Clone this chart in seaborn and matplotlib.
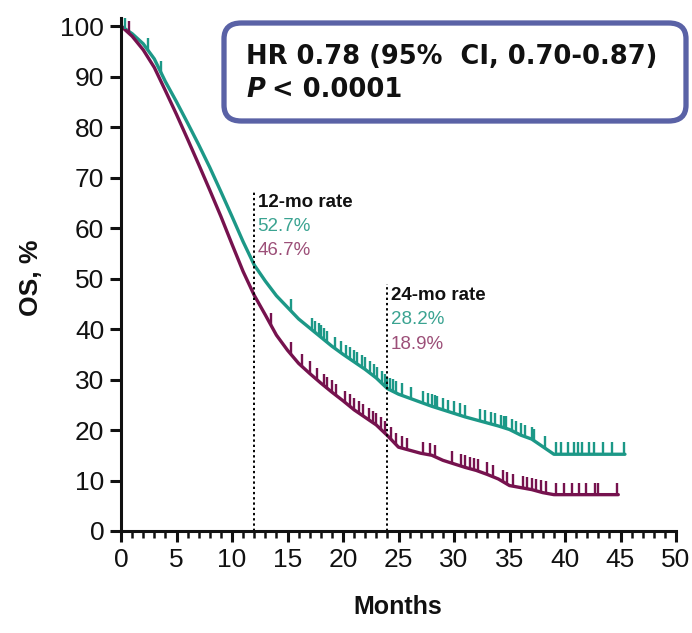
import numpy as np
import pandas as pd
import matplotlib
matplotlib.use("Agg")
import matplotlib.pyplot as plt
from matplotlib.path import Path
from matplotlib.patches import FancyBboxPatch
import seaborn as sns

# Overall survival (%) by month for the two arms
months = list(range(0, 46))
os_arm_a = [100, 98.5, 96.5, 93.5, 89.0, 85.0, 80.8, 76.5, 72.0, 67.2,
            62.3, 57.3, 52.7, 49.5, 46.6, 44.3, 42.0, 40.2, 38.4, 36.6,
            35.0, 33.5, 32.0, 30.3, 28.2, 27.1, 26.3, 25.5, 24.7, 24.0,
            23.3, 22.6, 22.0, 21.4, 20.8, 20.1, 19.0, 18.2, 16.7, 15.2,
            15.2, 15.2, 15.2, 15.2, 15.2, 15.2]
os_arm_b = [100, 98.0, 95.3, 91.8, 87.2, 82.5, 77.6, 72.6, 67.5, 62.3,
            56.8, 51.4, 46.7, 42.8, 38.8, 35.8, 33.2, 31.2, 29.3, 27.5,
            25.8, 24.0, 22.5, 21.0, 18.9, 16.6, 16.0, 15.4, 15.0, 14.0,
            13.3, 12.6, 12.0, 11.2, 10.3, 9.0, 8.6, 8.2, 7.6, 7.2,
            7.2, 7.2, 7.2, 7.2, 7.2, 7.2]
last_month_a = 45.4
last_month_b = 44.8

# Censoring times (months)
censor_a = [0.4, 2.4, 3.6, 15.3, 17.2, 17.5, 17.8, 18.0, 18.3, 18.6, 19.3, 19.8,
            20.3, 20.6, 21.0, 21.3, 21.7, 22.0, 22.4, 22.8, 23.1, 23.5, 23.8,
            24.0, 24.2, 24.5, 24.8, 25.3, 26.1, 27.2, 27.7, 28.0, 28.3, 28.5,
            29.0, 29.5, 30.0, 30.5, 31.0, 32.3, 32.8, 33.3, 33.7, 34.2, 34.5,
            34.7, 35.2, 35.6, 36.0, 36.4, 37.0, 37.2, 38.2, 39.2, 39.6, 40.3,
            40.8, 41.2, 41.5, 42.2, 42.6, 43.4, 44.2, 45.3]
censor_b = [0.7, 13.5, 15.3, 16.3, 17.0, 17.7, 18.3, 18.6, 19.0, 19.4, 20.2,
            20.6, 21.0, 21.4, 21.8, 22.3, 22.7, 23.0, 23.4, 23.8, 24.3, 24.8,
            25.3, 25.8, 27.2, 27.8, 28.3, 29.8, 30.6, 31.0, 31.4, 31.8, 32.2,
            33.0, 33.5, 34.4, 34.8, 35.3, 36.2, 36.6, 37.0, 37.4, 37.8, 38.3,
            39.2, 39.9, 40.6, 41.3, 41.9, 42.7, 43.0, 44.7]

rate_12 = (52.7, 46.7)
rate_24 = (28.2, 18.9)
hr_text = "HR 0.78 (95%  CI, 0.70-0.87)"
p_text = "< 0.0001"

col_a = "#1c9887"
col_b = "#76124e"
txt_a = "#3aa391"
txt_b = "#9c4f78"

sns.set_style("ticks")
plt.rcParams["font.family"] = ["Liberation Sans", "DejaVu Sans"]

fig = plt.figure(figsize=(6.92, 6.33), dpi=100)
ax = fig.add_axes([121 / 692, 1 - 531 / 633, 555 / 692, 513 / 633])


def curve(m, s, last):
    m = list(m) + [last]
    s = list(s) + [s[-1]]
    keep = [i for i, t in enumerate(m) if t <= last]
    return [m[i] for i in keep], [s[i] for i in keep]


ma, sa = curve(months, os_arm_a, last_month_a)
mb, sb = curve(months, os_arm_b, last_month_b)
df = pd.concat([
    pd.DataFrame({"Months": ma, "OS": sa, "Arm": "A"}),
    pd.DataFrame({"Months": mb, "OS": sb, "Arm": "B"}),
])
sns.lineplot(data=df, x="Months", y="OS", hue="Arm", palette={"A": col_a, "B": col_b},
             linewidth=2.4, legend=False, ax=ax, sort=False, estimator=None)

# Upward censor ticks
tick_marker = Path([(0, 0), (0, 1)], [Path.MOVETO, Path.LINETO])
for cens, m, s, c in [(censor_a, ma, sa, col_a), (censor_b, mb, sb, col_b)]:
    ax.plot(cens, np.interp(cens, m, s), linestyle="none", marker=tick_marker,
            markersize=18, markeredgewidth=1.7, color=c)

# Landmark lines
ax.plot([12, 12], [0, 67.5], color="black", lw=1.4, ls=(0, (1.2, 1.5)))
ax.plot([24, 24], [0, 49], color="black", lw=1.4, ls=(0, (1.2, 1.5)))

for x0, ytop, lab, vals in [(12.3, 66.8, "12-mo rate", rate_12), (24.3, 48.3, "24-mo rate", rate_24)]:
    ax.text(x0, ytop, lab, fontsize=13.5, fontweight="bold", color="#111111", va="top", ha="left")
    ax.text(x0, ytop - 4.8, f"{vals[0]}%", fontsize=13.5, color=txt_a, va="top", ha="left")
    ax.text(x0, ytop - 9.6, f"{vals[1]}%", fontsize=13.5, color=txt_b, va="top", ha="left")

ax.set_xlim(0, 50)
ax.set_ylim(0, 101.6)
ax.set_xticks(range(0, 51, 5))
ax.set_xticks(range(0, 51, 1), minor=True)
ax.set_yticks(range(0, 101, 10))
ax.tick_params(axis="both", which="major", length=8, width=2.2, labelsize=19, pad=4,
               colors="#111111")
ax.tick_params(axis="x", which="minor", length=5, width=1.8, colors="#111111")
for sp in ["left", "bottom"]:
    ax.spines[sp].set_linewidth(2.2)
    ax.spines[sp].set_color("#111111")
sns.despine(ax=ax)
ax.set_xlabel("")
ax.set_ylabel("")

fig.text(31 / 692, 1 - 278 / 633, "OS, %", rotation=90, fontsize=19, fontweight="bold",
         ha="center", va="center", color="#111111")
fig.text(398 / 692, 1 - 607 / 633, "Months", fontsize=18, fontweight="bold",
         ha="center", va="center", color="#111111")

# Hazard ratio box
box = FancyBboxPatch((224 / 692, 1 - 121 / 633), 462 / 692, 98 / 633,
                     boxstyle="round,pad=0,rounding_size=0.025", transform=fig.transFigure,
                     facecolor="white", edgecolor="#5a62a6", linewidth=3.8)
fig.patches.append(box)
box_font = ["DejaVu Sans"]
fig.text(246 / 692, 1 - 57 / 633, hr_text, fontsize=18.5, fontweight="bold",
         family=box_font, ha="left", va="center", color="#111111")
fig.text(246 / 692, 1 - 90 / 633, "P", fontsize=18.5, fontweight="bold",
         style="italic", family=box_font, ha="left", va="center", color="#111111")
fig.text(272 / 692, 1 - 90 / 633, p_text, fontsize=18.5, fontweight="bold",
         family=box_font, ha="left", va="center", color="#111111")

fig.savefig("out.png", dpi=100)
